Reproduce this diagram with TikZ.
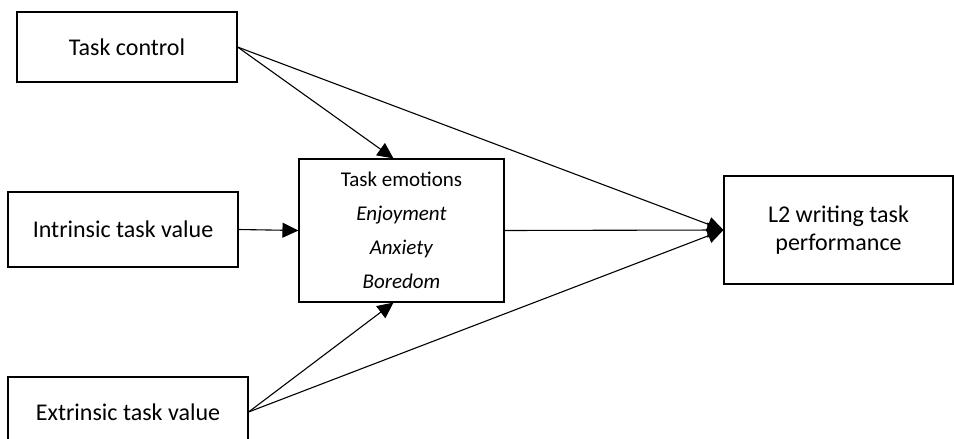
\documentclass[tikz,border=0pt]{standalone}
\usepackage{fontspec}
\setmainfont{Carlito}
\usetikzlibrary{arrows.meta}
\begin{document}
\begin{tikzpicture}[x=1pt,y=-1pt,
  box/.style={draw, line width=1.1pt, rectangle, inner sep=0pt, align=center, font=\fontsize{24}{28.5}\selectfont},
  conn/.style={line width=1.1pt, -{Triangle[length=16pt,width=15pt]}}]
\useasboundingbox (0,0) rectangle (954,439);
\node[box, minimum width=220pt, minimum height=70pt] (tc) at (127,47) {Task control};
\node[box, minimum width=230pt, minimum height=75pt] (in) at (123,229.5) {Intrinsic task value};
\node[box, minimum width=240pt, minimum height=70pt] (ex) at (128,412) {Extrinsic task value};
\node[box, minimum width=205pt, minimum height=143pt, font=\fontsize{21}{34}\selectfont] (em) at (401.5,230.5)
  {Task emotions\\\textit{Enjoyment}\\\textit{Anxiety}\\\textit{Boredom}};
\node[box, minimum width=229pt, minimum height=108pt] (l2) at (838.5,230) {L2 writing task\\performance};
\draw[conn] (tc.east) -- ([xshift=-8pt]em.north);
\draw[conn] (tc.east) -- (l2.west);
\draw[conn] (in.east) -- (em.west);
\draw[conn] (em.east) -- (l2.west);
\draw[conn] (ex.east) -- ([xshift=-8pt]em.south);
\draw[conn] (ex.east) -- (l2.west);
\end{tikzpicture}
\end{document}
